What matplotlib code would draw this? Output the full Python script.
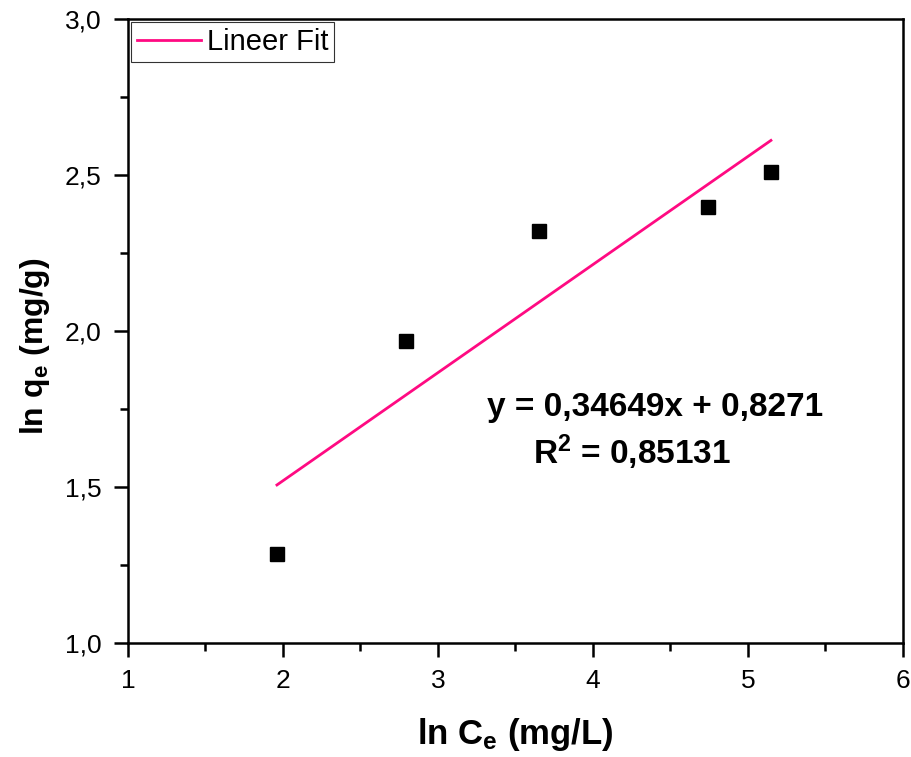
import matplotlib
matplotlib.use("Agg")
import matplotlib.pyplot as plt
import numpy as np
from matplotlib.ticker import MultipleLocator, FuncFormatter

plt.rcParams['font.family'] = ['Liberation Sans', 'DejaVu Sans']
plt.rcParams['mathtext.fontset'] = 'custom'
plt.rcParams['mathtext.rm'] = 'Liberation Sans'
plt.rcParams['mathtext.bf'] = 'Liberation Sans:bold'
plt.rcParams['mathtext.it'] = 'Liberation Sans:italic'

# Freundlich isotherm data
ln_ce = [1.961, 2.794, 3.652, 4.742, 5.148]
ln_qe = [1.285, 1.968, 2.321, 2.397, 2.510]

# Linear fit parameters
slope = 0.34649
intercept = 0.8271
r_squared = 0.85131

fig = plt.figure(figsize=(9.11, 7.57), dpi=100)
ax = fig.add_axes([0.1405, 0.1506, 0.8507, 0.8243])

xfit = np.array([min(ln_ce), max(ln_ce)])
yfit = slope * xfit + intercept
ax.plot(xfit, yfit, color='#FF0A82', lw=2.0, label='Lineer Fit', zorder=2)
ax.plot(ln_ce, ln_qe, linestyle='none', marker='s', markersize=9.5,
        color='black', zorder=3)

ax.set_xlim(1, 6)
ax.set_ylim(1.0, 3.0)
ax.xaxis.set_major_locator(MultipleLocator(1))
ax.xaxis.set_minor_locator(MultipleLocator(0.5))
ax.yaxis.set_major_locator(MultipleLocator(0.5))
ax.yaxis.set_minor_locator(MultipleLocator(0.25))
ax.xaxis.set_major_formatter(FuncFormatter(lambda v, p: f"{v:.0f}"))
ax.yaxis.set_major_formatter(FuncFormatter(lambda v, p: f"{v:.1f}".replace('.', ',')))

ax.tick_params(which='major', direction='out', length=10, width=1.8,
               labelsize=19, pad=9)
ax.tick_params(which='minor', direction='out', length=5.5, width=1.8)
for s in ax.spines.values():
    s.set_linewidth(1.8)

ax.set_xlabel(r'ln C$_\mathbf{e}$ (mg/L)', fontsize=25, fontweight='bold', labelpad=16)
ax.set_ylabel(r'ln q$_\mathbf{e}$ (mg/g)', fontsize=23, fontweight='bold')
ax.yaxis.set_label_coords(-0.098, 0.476)

fit_label = f"y = {slope:.5f}x + {intercept:.4f}".replace('.', ',')
r2_label = r"R$^\mathbf{2}$ = " + f"{r_squared:.5f}".replace('.', ',')
ax.text(4.40, 1.755, fit_label, fontsize=24, fontweight='bold', ha='center', va='center')
ax.text(4.25, 1.610, r2_label, fontsize=24, fontweight='bold', ha='center', va='center')

leg = ax.legend(loc='upper left', fontsize=21, frameon=True, fancybox=False,
                borderaxespad=0.1, handlelength=2.2, handletextpad=0.2,
                borderpad=0.2)
leg.get_frame().set_edgecolor('black')
leg.get_frame().set_linewidth(0.8)

fig.savefig('out.png', dpi=100, facecolor='white')
